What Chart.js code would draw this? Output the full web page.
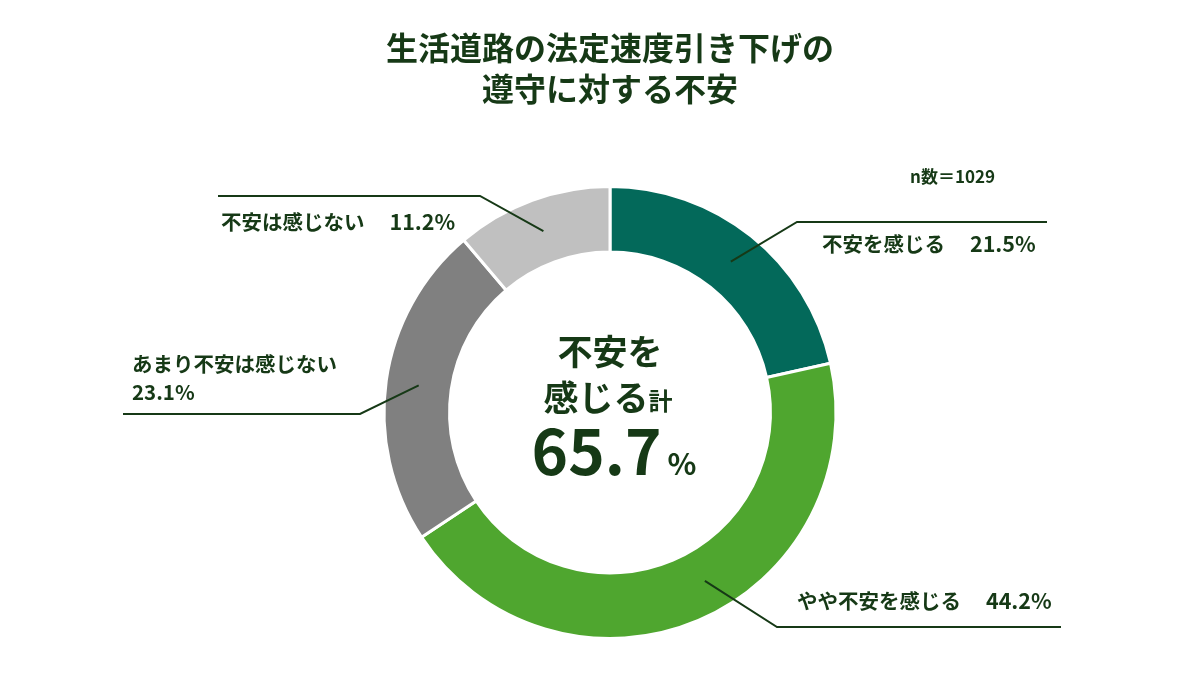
<!DOCTYPE html>
<html lang="ja">
<head>
<meta charset="utf-8">
<script src="https://cdn.jsdelivr.net/npm/chart.js@4.4.1/dist/chart.umd.min.js"></script>
<style>
  html, body { margin: 0; padding: 0; background: #ffffff; }
  #wrap { width: 1200px; height: 675px; }
</style>
</head>
<body>
<div id="wrap"><canvas id="anxietyChart" width="1200" height="675"></canvas></div>
<script>
// Chart data
const categories = ['不安を感じる', 'やや不安を感じる', 'あまり不安は感じない', '不安は感じない'];
const shares = [21.5, 44.2, 23.1, 11.2];
const sliceColors = ['#03695a', '#4fa62f', '#808080', '#c0c0c0'];
const titleLines = ['生活道路の法定速度引き下げの', '遵守に対する不安'];
const sampleSize = 1029;

// the two "anxious" answers make up the total shown in the middle
const anxiousTotal = (shares[0] + shares[1]).toFixed(1);

const FONT = "'Noto Sans CJK JP', 'Noto Sans', sans-serif";
const INK = '#163916';

// where each leader line bends and where its label sits
const labelLayout = [
    { frac: 0.5,  elbow: [797, 222], endX: 1047, textX: 822, textY: 244, twoLines: false },
    { frac: 0.46, elbow: [777, 627], endX: 1061, textX: 797, textY: 601, twoLines: false },
    { frac: 0.5,  elbow: [360, 414], endX: 123,  textX: 132, textY: 364, twoLines: true },
    { frac: 0.5,  elbow: [480, 196], endX: 218,  textX: 221, textY: 222, twoLines: false }
];

const leaderLabels = {
    id: 'leaderLabels',
    afterDatasetsDraw(chart) {
        const ctx = chart.ctx;
        const arcs = chart.getDatasetMeta(0).data;
        ctx.save();
        arcs.forEach((arc, i) => {
            const lay = labelLayout[i];
            const p = arc.getProps(['x', 'y', 'startAngle', 'endAngle', 'innerRadius', 'outerRadius'], true);
            const a = p.startAngle + (p.endAngle - p.startAngle) * lay.frac;
            const r = (p.innerRadius + p.outerRadius) / 2;
            const ax = p.x + Math.cos(a) * r;
            const ay = p.y + Math.sin(a) * r;

            ctx.strokeStyle = INK;
            ctx.lineWidth = 2;
            ctx.beginPath();
            ctx.moveTo(ax, ay);
            ctx.lineTo(lay.elbow[0], lay.elbow[1]);
            ctx.lineTo(lay.endX, lay.elbow[1]);
            ctx.stroke();

            ctx.fillStyle = INK;
            ctx.font = 'bold 20.5px ' + FONT;
            ctx.textAlign = 'left';
            ctx.textBaseline = 'middle';
            const value = shares[i].toFixed(1) + '%';
            if (lay.twoLines) {
                ctx.fillText(categories[i], lay.textX, lay.textY);
                ctx.fillText(value, lay.textX, lay.textY + 28);
            } else {
                const wName = ctx.measureText(categories[i]).width;
                ctx.fillText(categories[i], lay.textX, lay.textY);
                ctx.font = 'bold 21.5px ' + FONT;
                ctx.fillText(value, lay.textX + wName + 25, lay.textY);
            }
        });
        ctx.restore();
    },
    afterDraw(chart) {
        const ctx = chart.ctx;
        const arc = chart.getDatasetMeta(0).data[0];
        const cx = arc.x;
        const cy = arc.y;
        ctx.save();
        ctx.fillStyle = INK;
        ctx.textBaseline = 'middle';

        // title
        ctx.textAlign = 'center';
        ctx.font = 'bold 32px ' + FONT;
        titleLines.forEach((t, k) => ctx.fillText(t, 610, 48 + k * 41));

        // sample size
        ctx.font = 'bold 17px ' + FONT;
        ctx.textAlign = 'left';
        ctx.fillText('n数＝' + sampleSize, 910, 177);

        // centre text
        ctx.textAlign = 'center';
        ctx.font = 'bold 35px ' + FONT;
        ctx.fillText('不安を', cx, cy - 61);

        ctx.font = 'bold 35px ' + FONT;
        const w1 = ctx.measureText('感じる').width;
        ctx.font = 'bold 24px ' + FONT;
        const w2 = ctx.measureText('計').width;
        let x0 = cx - (w1 + w2) / 2 - 2;
        ctx.textAlign = 'left';
        ctx.font = 'bold 35px ' + FONT;
        ctx.fillText('感じる', x0, cy - 15);
        ctx.font = 'bold 24px ' + FONT;
        ctx.fillText('計', x0 + w1, cy - 12);

        ctx.font = 'bold 62px ' + FONT;
        const wNum = ctx.measureText(anxiousTotal).width;
        ctx.font = 'bold 30px ' + FONT;
        const wPct = ctx.measureText('%').width;
        x0 = cx - (wNum + wPct + 6) / 2 + 4;
        ctx.textBaseline = 'alphabetic';
        ctx.font = 'bold 62px ' + FONT;
        ctx.fillText(anxiousTotal, x0, cy + 62);
        ctx.font = 'bold 30px ' + FONT;
        ctx.fillText('%', x0 + wNum + 6, cy + 62);
        ctx.restore();
    }
};

const ctx = document.getElementById('anxietyChart').getContext('2d');
const anxietyChart = new Chart(ctx, {
    type: 'doughnut',
    data: {
        labels: categories,
        datasets: [{
            data: shares,
            backgroundColor: sliceColors,
            borderColor: '#ffffff',
            borderWidth: 3,
            hoverOffset: 0
        }]
    },
    options: {
        responsive: false,
        animation: false,
        events: [],
        cutout: '71%',
        layout: {
            padding: { top: 185, bottom: 35, left: 155, right: 135 }
        },
        plugins: {
            legend: { display: false },
            tooltip: { enabled: false },
            title: { display: false }
        }
    },
    plugins: [leaderLabels]
});
</script>
</body>
</html>
